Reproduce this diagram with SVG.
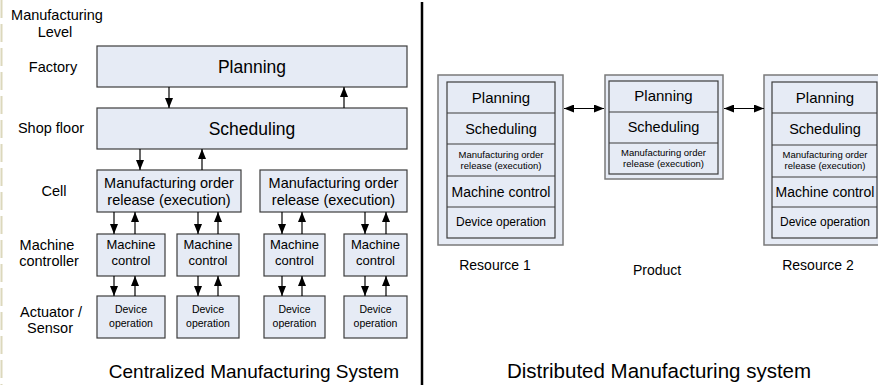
<svg xmlns="http://www.w3.org/2000/svg" width="878" height="385" viewBox="0 0 878 385">
  <style>
    text { font-family: "Liberation Sans", Arial, sans-serif; fill: #000; }
    .box { fill: #e6ebf5; stroke: #3c3c3c; stroke-width: 1.2; }
    .outer { fill: #e6ebf5; stroke: #7a7a7a; stroke-width: 1.5; }
    .lvl { font-size: 14.5px; text-anchor: middle; }
    .c { text-anchor: middle; }
    .wire { stroke: #000; stroke-width: 1.2; fill: none; }
    .sep { stroke: #3c3c3c; stroke-width: 1.2; }
    .dn { marker-end: url(#head); }
    .bi { marker-start: url(#headS); marker-end: url(#head); }
  </style>
  <defs>
    <marker id="head" viewBox="0 0 10 8" refX="10" refY="4" markerWidth="10" markerHeight="8" markerUnits="userSpaceOnUse" orient="auto">
      <path d="M0,0 L10,4 L0,8 z" fill="#000"/>
    </marker>
    <marker id="headS" viewBox="0 0 10 8" refX="0" refY="4" markerWidth="10" markerHeight="8" markerUnits="userSpaceOnUse" orient="auto">
      <path d="M10,0 L0,4 L10,8 z" fill="#000"/>
    </marker>
  </defs>

  <rect width="878" height="385" fill="#fff"/>
  <!-- faint guide along the left edge -->
  <line x1="1.5" y1="0" x2="1.5" y2="385" stroke="#dcd8bc" stroke-width="2" stroke-dasharray="18,6"/>

  <!-- level labels -->
  <g id="levels">
    <text class="lvl" x="57" y="20">Manufacturing</text>
    <text class="lvl" x="55" y="37">Level</text>
    <text class="lvl" x="53" y="72">Factory</text>
    <text class="lvl" x="51" y="133">Shop floor</text>
    <text class="lvl" x="54" y="196">Cell</text>
    <text class="lvl" x="47" y="250">Machine</text>
    <text class="lvl" x="49" y="266">controller</text>
    <text class="lvl" x="51" y="317">Actuator /</text>
    <text class="lvl" x="50" y="333">Sensor</text>
  </g>

  <!-- centralized hierarchy -->
  <g id="planning">
    <rect class="box" x="97" y="46" width="310" height="41"/>
    <text class="c" x="252" y="73" font-size="17.5">Planning</text>
  </g>
  <g id="scheduling">
    <rect class="box" x="97" y="108" width="310" height="41"/>
    <text class="c" x="252" y="135" font-size="17.5">Scheduling</text>
  </g>
  <g id="cell1">
    <rect class="box" x="97" y="170" width="144" height="42"/>
    <text class="c" x="169" y="188" font-size="14.5">Manufacturing order</text>
    <text class="c" x="169" y="205" font-size="14.5">release (execution)</text>
  </g>
  <g id="cell2">
    <rect class="box" x="260" y="170" width="147" height="42"/>
    <text class="c" x="333.5" y="188" font-size="14.5">Manufacturing order</text>
    <text class="c" x="333.5" y="205" font-size="14.5">release (execution)</text>
  </g>
  <g id="machine1">
    <rect class="box" x="97" y="234" width="68" height="42"/>
    <text class="c" x="131" y="249" font-size="13">Machine</text>
    <text class="c" x="131" y="265" font-size="13">control</text>
  </g>
  <g id="machine2">
    <rect class="box" x="177" y="234" width="62" height="42"/>
    <text class="c" x="208" y="249" font-size="13">Machine</text>
    <text class="c" x="208" y="265" font-size="13">control</text>
  </g>
  <g id="machine3">
    <rect class="box" x="264" y="234" width="61" height="42"/>
    <text class="c" x="294.5" y="249" font-size="13">Machine</text>
    <text class="c" x="294.5" y="265" font-size="13">control</text>
  </g>
  <g id="machine4">
    <rect class="box" x="344" y="234" width="63" height="42"/>
    <text class="c" x="375.5" y="249" font-size="13">Machine</text>
    <text class="c" x="375.5" y="265" font-size="13">control</text>
  </g>
  <g id="device1">
    <rect class="box" x="97" y="296" width="68" height="42"/>
    <text class="c" x="131" y="313" font-size="10.5">Device</text>
    <text class="c" x="131" y="327" font-size="10.5">operation</text>
  </g>
  <g id="device2">
    <rect class="box" x="177" y="296" width="62" height="42"/>
    <text class="c" x="208" y="313" font-size="10.5">Device</text>
    <text class="c" x="208" y="327" font-size="10.5">operation</text>
  </g>
  <g id="device3">
    <rect class="box" x="264" y="296" width="61" height="42"/>
    <text class="c" x="294.5" y="313" font-size="10.5">Device</text>
    <text class="c" x="294.5" y="327" font-size="10.5">operation</text>
  </g>
  <g id="device4">
    <rect class="box" x="344" y="296" width="63" height="42"/>
    <text class="c" x="375.5" y="313" font-size="10.5">Device</text>
    <text class="c" x="375.5" y="327" font-size="10.5">operation</text>
  </g>

  <!-- distributed system -->
  <g id="resource1">
    <rect class="outer" x="438" y="75" width="125" height="170"/>
    <rect class="box" x="447" y="82" width="108" height="156"/>
    <line class="sep" x1="447" y1="113" x2="555" y2="113"/>
    <line class="sep" x1="447" y1="144" x2="555" y2="144"/>
    <line class="sep" x1="447" y1="176" x2="555" y2="176"/>
    <line class="sep" x1="447" y1="207" x2="555" y2="207"/>
    <text class="c" x="501" y="103" font-size="15">Planning</text>
    <text class="c" x="501" y="134" font-size="14.5">Scheduling</text>
    <text class="c" x="501" y="158" font-size="9.5">Manufacturing order</text>
    <text class="c" x="501" y="169" font-size="9.5">release (execution)</text>
    <text class="c" x="501" y="197" font-size="14">Machine control</text>
    <text class="c" x="501" y="226" font-size="12">Device operation</text>
  </g>
  <g id="product">
    <rect class="outer" x="605" y="75" width="118" height="104"/>
    <rect class="box" x="609" y="81" width="109" height="93"/>
    <line class="sep" x1="609" y1="112" x2="718" y2="112"/>
    <line class="sep" x1="609" y1="143" x2="718" y2="143"/>
    <text class="c" x="663.5" y="101" font-size="15">Planning</text>
    <text class="c" x="663.5" y="132" font-size="14.5">Scheduling</text>
    <text class="c" x="663.5" y="156" font-size="9.5">Manufacturing order</text>
    <text class="c" x="663.5" y="167" font-size="9.5">release (execution)</text>
  </g>
  <g id="resource2">
    <rect class="outer" x="764" y="75" width="125" height="170"/>
    <rect class="box" x="772" y="82" width="105" height="156"/>
    <line class="sep" x1="772" y1="113" x2="877" y2="113"/>
    <line class="sep" x1="772" y1="145" x2="877" y2="145"/>
    <line class="sep" x1="772" y1="177" x2="877" y2="177"/>
    <line class="sep" x1="772" y1="207" x2="877" y2="207"/>
    <text class="c" x="825" y="103" font-size="15">Planning</text>
    <text class="c" x="825" y="134" font-size="14.5">Scheduling</text>
    <text class="c" x="825" y="158" font-size="9.5">Manufacturing order</text>
    <text class="c" x="825" y="169" font-size="9.5">release (execution)</text>
    <text class="c" x="825" y="197" font-size="14">Machine control</text>
    <text class="c" x="825" y="226" font-size="12">Device operation</text>
  </g>

  <!-- connectors -->
  <g id="connectors">
    <line class="wire dn" x1="169" y1="87" x2="169" y2="108"/>
    <line class="wire dn" x1="344" y1="108" x2="344" y2="87"/>
    <line class="wire dn" x1="140" y1="149" x2="140" y2="170"/>
    <line class="wire dn" x1="202" y1="170" x2="202" y2="149"/>

    <line class="wire dn" x1="114" y1="212" x2="114" y2="234"/>
    <line class="wire dn" x1="135" y1="234" x2="135" y2="212"/>
    <line class="wire dn" x1="198" y1="212" x2="198" y2="234"/>
    <line class="wire dn" x1="218" y1="234" x2="218" y2="212"/>
    <line class="wire dn" x1="282" y1="212" x2="282" y2="234"/>
    <line class="wire dn" x1="302" y1="234" x2="302" y2="212"/>
    <line class="wire dn" x1="365" y1="212" x2="365" y2="234"/>
    <line class="wire dn" x1="386" y1="234" x2="386" y2="212"/>

    <line class="wire dn" x1="114" y1="276" x2="114" y2="296"/>
    <line class="wire dn" x1="135" y1="296" x2="135" y2="276"/>
    <line class="wire dn" x1="198" y1="276" x2="198" y2="296"/>
    <line class="wire dn" x1="218" y1="296" x2="218" y2="276"/>
    <line class="wire dn" x1="282" y1="276" x2="282" y2="296"/>
    <line class="wire dn" x1="302" y1="296" x2="302" y2="276"/>
    <line class="wire dn" x1="365" y1="276" x2="365" y2="296"/>
    <line class="wire dn" x1="386" y1="296" x2="386" y2="276"/>

    <line class="wire bi" x1="564" y1="108.5" x2="604" y2="108.5"/>
    <line class="wire bi" x1="724" y1="108.5" x2="764" y2="108.5"/>
  </g>

  <!-- captions -->
  <g id="captions">
    <text class="c" x="495" y="270" font-size="14">Resource 1</text>
    <text class="c" x="657" y="275" font-size="14">Product</text>
    <text class="c" x="818" y="270" font-size="14">Resource 2</text>
    <text class="c" x="254" y="378" font-size="19">Centralized Manufacturing System</text>
    <text class="c" x="659" y="378" font-size="20.5">Distributed Manufacturing system</text>
  </g>

  <!-- divider between the two systems -->
  <line x1="422" y1="2" x2="422" y2="385" stroke="#000" stroke-width="2.5"/>
</svg>
